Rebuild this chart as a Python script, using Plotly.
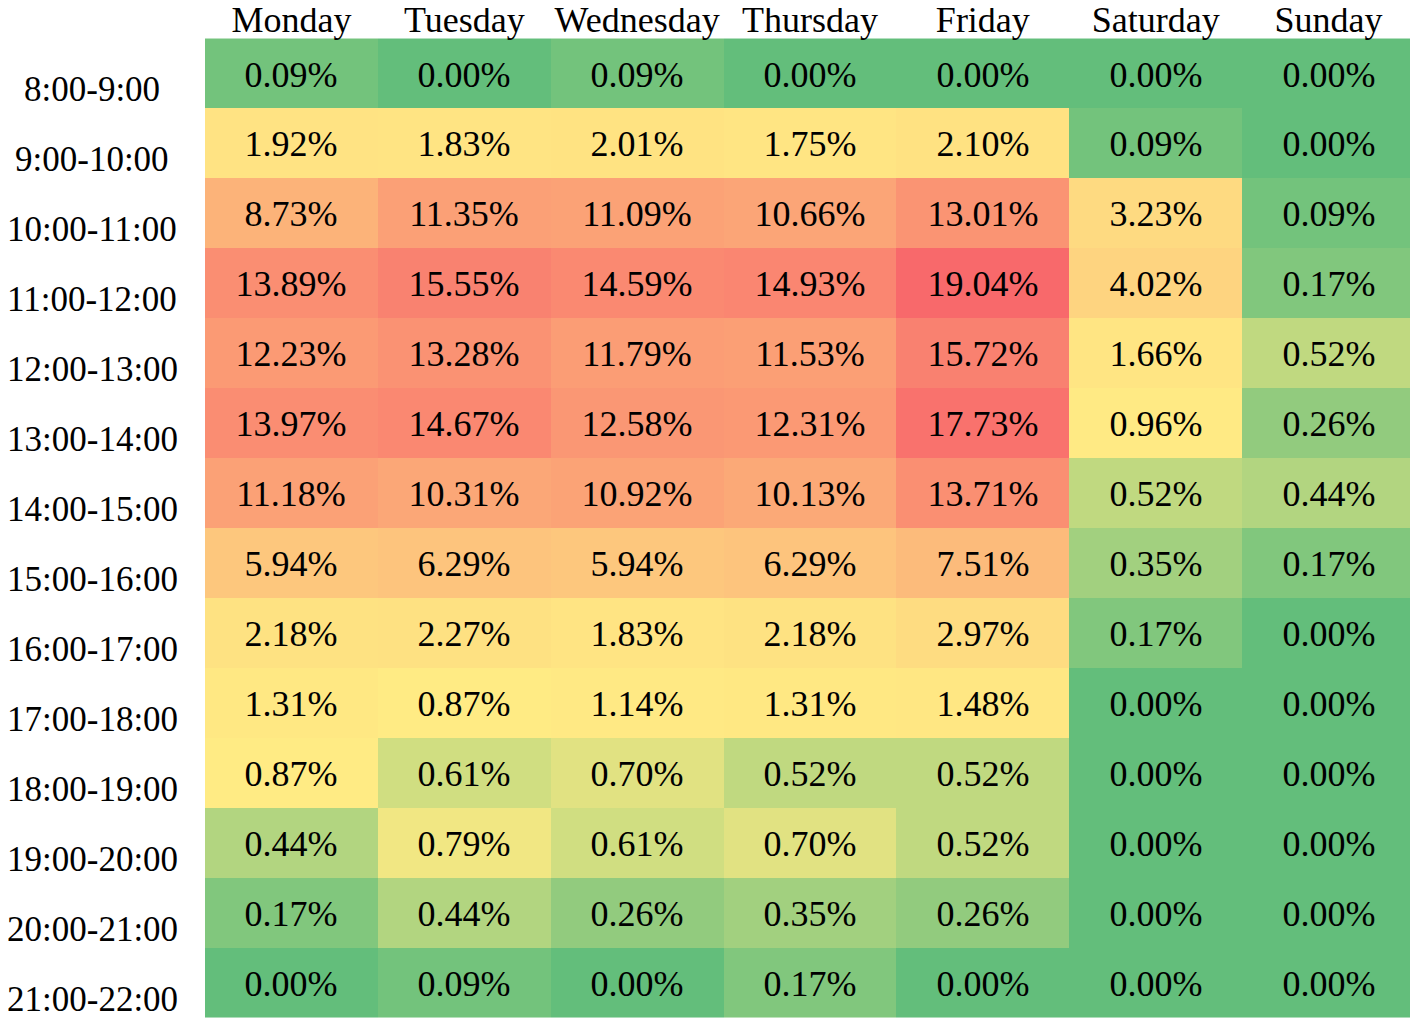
import numpy as np
import plotly.graph_objects as go

days = ["Monday", "Tuesday", "Wednesday", "Thursday", "Friday", "Saturday", "Sunday"]
hours = ["8:00-9:00", "9:00-10:00", "10:00-11:00", "11:00-12:00", "12:00-13:00",
         "13:00-14:00", "14:00-15:00", "15:00-16:00", "16:00-17:00", "17:00-18:00",
         "18:00-19:00", "19:00-20:00", "20:00-21:00", "21:00-22:00"]

# share of activity (%) per hour slot, one list per weekday
monday = [0.09, 1.92, 8.73, 13.89, 12.23, 13.97, 11.18, 5.94, 2.18, 1.31, 0.87, 0.44, 0.17, 0.00]
tuesday = [0.00, 1.83, 11.35, 15.55, 13.28, 14.67, 10.31, 6.29, 2.27, 0.87, 0.61, 0.79, 0.44, 0.09]
wednesday = [0.09, 2.01, 11.09, 14.59, 11.79, 12.58, 10.92, 5.94, 1.83, 1.14, 0.70, 0.61, 0.26, 0.00]
thursday = [0.00, 1.75, 10.66, 14.93, 11.53, 12.31, 10.13, 6.29, 2.18, 1.31, 0.52, 0.70, 0.35, 0.17]
friday = [0.00, 2.10, 13.01, 19.04, 15.72, 17.73, 13.71, 7.51, 2.97, 1.48, 0.52, 0.52, 0.26, 0.00]
saturday = [0.00, 0.09, 3.23, 4.02, 1.66, 0.96, 0.52, 0.35, 0.17, 0.00, 0.00, 0.00, 0.00, 0.00]
sunday = [0.00, 0.00, 0.09, 0.17, 0.52, 0.26, 0.44, 0.17, 0.00, 0.00, 0.00, 0.00, 0.00, 0.00]

z = np.array([monday, tuesday, wednesday, thursday, friday, saturday, sunday]).T

# excel-style 3 colour scale: min green, median yellow, max red
zmin, zmax = z.min(), z.max()
mid = (np.percentile(z, 50) - zmin) / (zmax - zmin)
colorscale = [[0, "#63BE7B"], [mid, "#FFEB84"], [1, "#F8696B"]]

font = "Liberation Serif"

fig = go.Figure(go.Heatmap(
    z=z, x=days, y=hours,
    colorscale=colorscale, zmin=zmin, zmax=zmax,
    showscale=False,
    texttemplate="%{z:.2f}%",
    textfont=dict(family=font, size=36, color="black"),
))

# row labels sit a bit below the cell centres
for h in hours:
    fig.add_annotation(x=-0.093, y=h, xref="paper", yref="y", text=h,
                       showarrow=False, xanchor="center", yshift=-16,
                       font=dict(family=font, size=35, color="black"))

fig.update_xaxes(side="top", tickfont=dict(family=font, size=36, color="black"),
                 ticklabelstandoff=-4,
                 ticks="", showgrid=False, zeroline=False, automargin=False)
fig.update_yaxes(autorange="reversed", showticklabels=False, ticks="",
                 showgrid=False, zeroline=False, automargin=False)

# page body has an 8px margin, so the figure is a bit smaller than the window
fig.update_layout(width=1410, height=1014,
                  margin=dict(l=197, r=3, t=28, b=4),
                  font=dict(family=font, size=36, color="black"),
                  paper_bgcolor="white", plot_bgcolor="white")

fig.write_html("out.html")
